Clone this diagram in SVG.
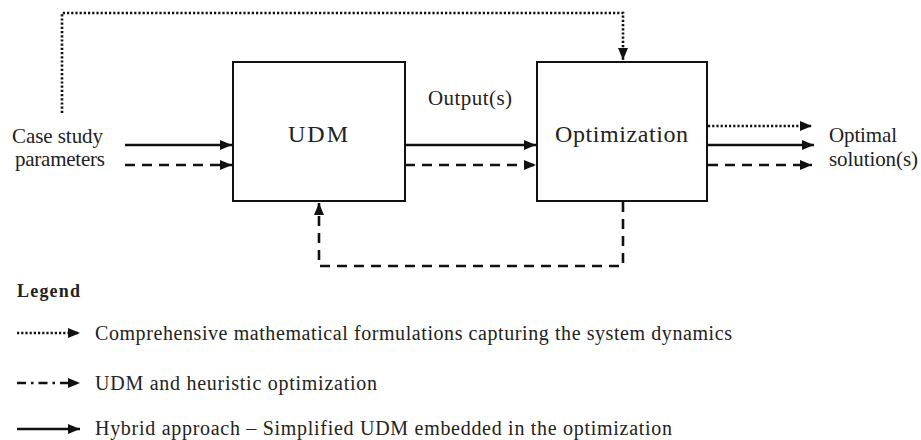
<svg xmlns="http://www.w3.org/2000/svg" width="921" height="440" viewBox="0 0 921 440">
<defs>
<marker id="ah" markerUnits="userSpaceOnUse" markerWidth="13" markerHeight="11" refX="12" refY="5" orient="auto">
<path d="M0,0 L12,5 L0,10 z" fill="#111"/>
</marker>
<style>
text{font-family:"Liberation Serif","DejaVu Serif",serif;fill:#222;font-size:21px}
.big{font-size:24px}
.leg{font-size:20px}
.box{fill:#fff;stroke:#111;stroke-width:2}
.ln{fill:none;stroke:#111;stroke-width:2.6}
.dot{stroke-dasharray:2.2 2}
.dash{stroke-dasharray:10 7}
.dd{stroke-dasharray:9 5 2.5 5}
</style>
</defs>
<rect width="921" height="440" fill="#fff"/>
<g id="connectors">
<path class="ln dot" d="M62,113 V13 H623 V60" marker-end="url(#ah)"/>
<line class="ln" x1="125" y1="145" x2="232" y2="145" marker-end="url(#ah)"/>
<line class="ln dash" x1="125" y1="165" x2="232" y2="165" marker-end="url(#ah)"/>
<line class="ln" x1="405" y1="145" x2="536" y2="145" marker-end="url(#ah)"/>
<line class="ln dash" x1="405" y1="165" x2="536" y2="165" marker-end="url(#ah)"/>
<line class="ln dot" x1="708" y1="126" x2="812" y2="126" marker-end="url(#ah)"/>
<line class="ln" x1="708" y1="145" x2="814" y2="145" marker-end="url(#ah)"/>
<line class="ln dash" x1="708" y1="165" x2="812" y2="165" marker-end="url(#ah)"/>
<path class="ln dash" d="M623,202 V266 H319 V203" marker-end="url(#ah)"/>
</g>
<g id="udm">
<rect class="box" x="233" y="62" width="172" height="139"/>
<text class="big" x="288" y="142" textLength="60">UDM</text>
</g>
<g id="optimization">
<rect class="box" x="537" y="62" width="170" height="139"/>
<text class="big" x="555" y="142" textLength="133">Optimization</text>
</g>
<g id="inputs">
<text x="12" y="143" textLength="91">Case study</text>
<text x="15" y="166" textLength="90">parameters</text>
</g>
<g id="output-label">
<text x="428" y="105" textLength="84">Output(s)</text>
</g>
<g id="solutions">
<text x="829" y="142" textLength="68">Optimal</text>
<text x="829" y="166" textLength="89">solution(s)</text>
</g>
<g id="legend">
<text x="17" y="297" font-weight="bold" style="font-size:18px" textLength="63">Legend</text>
<line class="ln dot" x1="17" y1="333" x2="80" y2="333" marker-end="url(#ah)"/>
<text class="leg" x="95" y="340" textLength="637">Comprehensive mathematical formulations capturing the system dynamics</text>
<line class="ln dd" x1="17" y1="383" x2="80" y2="383" marker-end="url(#ah)"/>
<text class="leg" x="95" y="390" textLength="282">UDM and heuristic optimization</text>
<line class="ln" x1="17" y1="429" x2="80" y2="429" marker-end="url(#ah)"/>
<text class="leg" x="95" y="435" textLength="577">Hybrid approach – Simplified UDM embedded in the optimization</text>
</g>
</svg>
